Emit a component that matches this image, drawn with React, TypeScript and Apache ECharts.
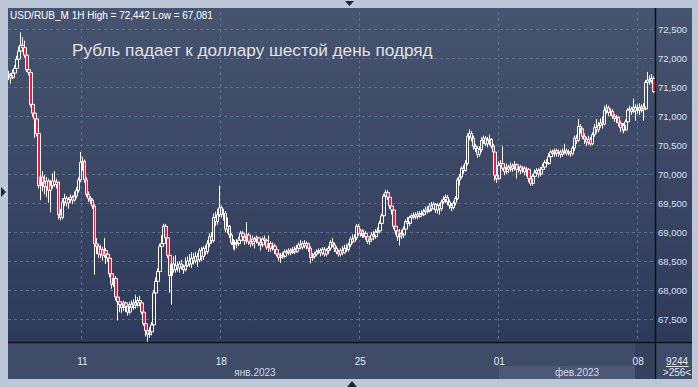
import React, { useEffect, useRef } from "react";
import * as echarts from "echarts";

// Trading days shown on the chart (first and last are partial sessions)
const tradingDays = [
  "06.01", "09.01", "10.01", "11.01", "12.01", "13.01", "16.01", "17.01",
  "18.01", "19.01", "20.01", "23.01", "24.01", "25.01", "26.01", "27.01",
  "30.01", "31.01", "01.02", "02.02", "03.02", "06.02", "07.02", "08.02",
];
const sessionHours = [
  "10:00", "11:00", "12:00", "13:00", "14:00", "15:00", "16:00",
  "17:00", "18:00", "19:00", "20:00", "21:00", "22:00", "23:00",
];
const firstDayHours = ["15:00", "16:00", "17:00", "18:00", "19:00", "20:00", "21:00", "22:00", "23:00"];
const lastDayHours = ["10:00", "11:00", "12:00", "13:00", "14:00", "15:00", "16:00", "17:00", "18:00"];

// Labelled days on the time axis
const dayTicks = ["11.01 10:00", "18.01 10:00", "25.01 10:00", "01.02 10:00", "08.02 10:00"];
const monthLabels = ["янв.2023", "фев.2023"];
const titleText = "Рубль падает к доллару шестой день подряд";
const instrument = "USD/RUB_M 1H";

// Hourly OHLC (one row per trading day)
const open = [
  71.72, 71.70, 71.66, 71.74, 71.82, 71.98, 72.12, 72.22, 72.18,
  72.05, 71.80, 71.75, 71.20, 71.05, 70.95, 70.70, 69.80, 69.95, 69.85, 69.78, 69.88, 69.72, 69.80,
  69.88, 69.82, 69.86, 69.30, 69.25, 69.52, 69.58, 69.50, 69.56, 69.60, 69.55, 69.62, 69.72, 69.90,
  70.20, 70.22, 69.90, 69.65, 69.58, 69.55, 69.45, 68.80, 68.75, 68.62, 68.70, 68.60, 68.68, 68.62,
  68.55, 68.28, 68.10, 68.20, 67.88, 67.80, 67.75, 67.70, 67.78, 67.72, 67.62, 67.75, 67.70, 67.78,
  67.74, 67.82, 67.78, 67.62, 67.42, 67.30, 67.24, 67.28, 67.40, 67.95, 68.15, 68.32, 68.75, 68.80,
  69.10, 68.90, 68.60, 68.25, 68.45, 68.35, 68.42, 68.38, 68.45, 68.40, 68.35, 68.42, 68.50, 68.45,
  68.55, 68.50, 68.58, 68.52, 68.68, 68.58, 68.72, 68.66, 68.80, 68.92, 68.85, 69.25, 69.18, 69.30,
  69.42, 69.30, 69.32, 69.05, 69.10, 68.95, 68.82, 68.78, 68.82, 68.80, 68.86, 68.98, 68.92, 68.85,
  68.95, 68.84, 68.80, 68.88, 68.84, 68.90, 68.82, 68.78, 68.88, 68.85, 68.74, 68.80, 68.72, 68.76,
  68.70, 68.62, 68.56, 68.60, 68.58, 68.66, 68.64, 68.68, 68.65, 68.70, 68.66, 68.72, 68.78, 68.74,
  68.80, 68.76, 68.80, 68.72, 68.56, 68.58, 68.62, 68.66, 68.68, 68.64, 68.70, 68.62, 68.68, 68.72,
  68.82, 68.78, 68.72, 68.66, 68.62, 68.68, 68.64, 68.72, 68.70, 68.78, 68.88, 68.84, 68.90, 69.10,
  68.98, 69.02, 68.94, 68.98, 68.92, 68.84, 68.88, 68.95, 68.92, 69.00, 69.02, 69.15, 69.28, 69.62,
  69.68, 69.60, 69.45, 69.38, 69.10, 69.02, 68.92, 68.98, 68.95, 69.05, 69.18, 69.15, 69.25, 69.28,
  69.26, 69.30, 69.27, 69.32, 69.30, 69.35, 69.38, 69.36, 69.45, 69.40, 69.48, 69.38, 69.46, 69.40,
  69.52, 69.56, 69.60, 69.52, 69.46, 69.42, 69.50, 69.58, 69.90, 69.95, 70.10, 70.06, 70.18, 70.65,
  70.70, 70.62, 70.48, 70.44, 70.34, 70.42, 70.58, 70.62, 70.52, 70.58, 70.60, 70.48, 70.38, 69.98,
  69.92, 70.15, 70.18, 70.10, 70.04, 70.12, 70.08, 70.14, 70.10, 70.16, 70.08, 70.12, 70.06, 70.10,
  70.04, 70.08, 69.92, 69.84, 69.96, 70.02, 70.06, 70.00, 70.08, 70.12, 70.20, 70.18, 70.30, 70.38,
  70.35, 70.40, 70.36, 70.38, 70.34, 70.38, 70.40, 70.36, 70.38, 70.35, 70.45, 70.62, 70.58, 70.82,
  70.78, 70.65, 70.60, 70.55, 70.60, 70.52, 70.68, 70.80, 70.76, 70.84, 70.88, 70.86, 71.10, 71.14,
  71.06, 71.08, 71.00, 70.96, 70.98, 70.88, 70.80, 70.84, 70.76, 70.90, 71.10, 71.12, 71.08, 71.15,
  71.10, 71.14, 71.10, 71.16, 71.12, 71.58, 71.62, 71.60, 71.65,
];
const close = [
  71.70, 71.66, 71.74, 71.82, 71.98, 72.12, 72.22, 72.18, 72.05,
  71.80, 71.75, 71.20, 71.05, 70.95, 70.70, 69.80, 69.95, 69.85, 69.78, 69.88, 69.72, 69.80, 69.88,
  69.82, 69.86, 69.30, 69.25, 69.52, 69.58, 69.50, 69.56, 69.60, 69.55, 69.62, 69.72, 69.90, 70.20,
  70.22, 69.90, 69.65, 69.58, 69.55, 69.45, 68.80, 68.75, 68.62, 68.70, 68.60, 68.68, 68.62, 68.55,
  68.28, 68.10, 68.20, 67.88, 67.80, 67.75, 67.70, 67.78, 67.72, 67.62, 67.75, 67.70, 67.78, 67.74,
  67.82, 67.78, 67.62, 67.42, 67.30, 67.24, 67.28, 67.40, 67.95, 68.15, 68.32, 68.75, 68.80, 69.10,
  68.90, 68.60, 68.25, 68.45, 68.35, 68.42, 68.38, 68.45, 68.40, 68.35, 68.42, 68.50, 68.45, 68.55,
  68.50, 68.58, 68.52, 68.68, 68.58, 68.72, 68.66, 68.80, 68.92, 68.85, 69.25, 69.18, 69.30, 69.42,
  69.30, 69.32, 69.05, 69.10, 68.95, 68.82, 68.78, 68.82, 68.80, 68.86, 68.98, 68.92, 68.85, 68.95,
  68.84, 68.80, 68.88, 68.84, 68.90, 68.82, 68.78, 68.88, 68.85, 68.74, 68.80, 68.72, 68.76, 68.70,
  68.62, 68.56, 68.60, 68.58, 68.66, 68.64, 68.68, 68.65, 68.70, 68.66, 68.72, 68.78, 68.74, 68.80,
  68.76, 68.80, 68.72, 68.56, 68.58, 68.62, 68.66, 68.68, 68.64, 68.70, 68.62, 68.68, 68.72, 68.82,
  68.78, 68.72, 68.66, 68.62, 68.68, 68.64, 68.72, 68.70, 68.78, 68.88, 68.84, 68.90, 69.10, 68.98,
  69.02, 68.94, 68.98, 68.92, 68.84, 68.88, 68.95, 68.92, 69.00, 69.02, 69.15, 69.28, 69.62, 69.68,
  69.60, 69.45, 69.38, 69.10, 69.02, 68.92, 68.98, 68.95, 69.05, 69.18, 69.15, 69.25, 69.28, 69.26,
  69.30, 69.27, 69.32, 69.30, 69.35, 69.38, 69.36, 69.45, 69.40, 69.48, 69.38, 69.46, 69.40, 69.52,
  69.56, 69.60, 69.52, 69.46, 69.42, 69.50, 69.58, 69.90, 69.95, 70.10, 70.06, 70.18, 70.65, 70.70,
  70.62, 70.48, 70.44, 70.34, 70.42, 70.58, 70.62, 70.52, 70.58, 70.60, 70.48, 70.38, 69.98, 69.92,
  70.15, 70.18, 70.10, 70.04, 70.12, 70.08, 70.14, 70.10, 70.16, 70.08, 70.12, 70.06, 70.10, 70.04,
  70.08, 69.92, 69.84, 69.96, 70.02, 70.06, 70.00, 70.08, 70.12, 70.20, 70.18, 70.30, 70.38, 70.35,
  70.40, 70.36, 70.38, 70.34, 70.38, 70.40, 70.36, 70.38, 70.35, 70.45, 70.62, 70.58, 70.82, 70.78,
  70.65, 70.60, 70.55, 70.60, 70.52, 70.68, 70.80, 70.76, 70.84, 70.88, 70.86, 71.10, 71.14, 71.06,
  71.08, 71.00, 70.96, 70.98, 70.88, 70.80, 70.84, 70.76, 70.90, 71.10, 71.12, 71.08, 71.15, 71.10,
  71.14, 71.10, 71.16, 71.12, 71.58, 71.62, 71.60, 71.65, 71.419,
];
const low = [
  71.62, 71.56, 71.64, 71.72, 71.80, 71.95, 72.08, 72.10, 72.00,
  71.76, 71.70, 71.15, 70.98, 70.62, 70.65, 69.75, 69.55, 69.70, 69.65, 69.60, 69.50, 69.34, 69.75,
  69.78, 69.75, 69.22, 69.20, 69.22, 69.45, 69.44, 69.40, 69.50, 69.48, 69.52, 69.58, 69.68, 69.86,
  70.05, 69.85, 69.60, 69.52, 69.48, 69.40, 68.26, 68.62, 68.55, 68.55, 68.50, 68.56, 68.45, 68.48,
  68.22, 68.02, 68.05, 67.82, 67.48, 67.62, 67.60, 67.64, 67.62, 67.56, 67.58, 67.64, 67.66, 67.68,
  67.70, 67.72, 67.58, 67.38, 67.20, 67.081, 67.18, 67.22, 67.38, 67.90, 68.10, 68.28, 68.70, 68.76,
  68.85, 68.55, 67.95, 67.75, 68.30, 68.30, 68.32, 68.30, 68.35, 68.28, 68.32, 68.40, 68.40, 68.38,
  68.44, 68.46, 68.40, 68.48, 68.50, 68.52, 68.60, 68.62, 68.74, 68.80, 68.82, 69.10, 69.12, 69.26,
  69.25, 69.20, 69.00, 68.98, 68.90, 68.78, 68.70, 68.68, 68.72, 68.76, 68.80, 68.84, 68.78, 68.80,
  68.78, 68.74, 68.76, 68.72, 68.80, 68.76, 68.68, 68.74, 68.78, 68.70, 68.66, 68.66, 68.68, 68.62,
  68.58, 68.50, 68.47, 68.54, 68.55, 68.60, 68.60, 68.60, 68.62, 68.62, 68.64, 68.68, 68.70, 68.70,
  68.72, 68.70, 68.66, 68.46, 68.50, 68.54, 68.58, 68.62, 68.58, 68.60, 68.58, 68.58, 68.62, 68.68,
  68.74, 68.66, 68.62, 68.58, 68.58, 68.60, 68.62, 68.66, 68.66, 68.74, 68.80, 68.82, 68.86, 68.94,
  68.92, 68.90, 68.90, 68.86, 68.80, 68.78, 68.84, 68.86, 68.88, 68.96, 68.98, 69.10, 69.24, 69.55,
  69.55, 69.40, 69.30, 69.05, 68.95, 68.85, 68.77, 68.88, 68.90, 69.02, 69.08, 69.10, 69.20, 69.22,
  69.22, 69.22, 69.24, 69.26, 69.28, 69.30, 69.32, 69.34, 69.36, 69.38, 69.33, 69.32, 69.30, 69.36,
  69.48, 69.50, 69.46, 69.40, 69.36, 69.38, 69.46, 69.55, 69.80, 69.92, 70.00, 70.04, 70.15, 70.58,
  70.56, 70.42, 70.38, 70.28, 70.30, 70.38, 70.52, 70.48, 70.46, 70.50, 70.44, 70.32, 69.88, 69.85,
  69.90, 70.08, 70.06, 69.98, 70.00, 70.02, 70.04, 70.04, 70.06, 69.92, 70.02, 70.00, 70.02, 69.98,
  69.96, 69.86, 69.80, 69.80, 69.92, 69.98, 69.94, 69.96, 70.04, 70.08, 70.14, 70.16, 70.26, 70.30,
  70.30, 70.30, 70.30, 70.28, 70.30, 70.34, 70.32, 70.32, 70.30, 70.32, 70.40, 70.52, 70.55, 70.70,
  70.60, 70.52, 70.48, 70.50, 70.48, 70.50, 70.64, 70.70, 70.72, 70.80, 70.78, 70.84, 71.04, 71.00,
  71.00, 70.95, 70.90, 70.88, 70.82, 70.72, 70.74, 70.70, 70.74, 70.88, 71.04, 71.02, 71.05, 70.92,
  71.04, 71.02, 71.06, 70.92, 71.10, 71.52, 71.54, 71.56, 71.40,
];
const high = [
  71.78, 71.74, 71.80, 71.88, 72.04, 72.20, 72.442, 72.36, 72.30,
  72.08, 71.88, 71.78, 71.25, 71.10, 71.00, 70.75, 70.10, 70.05, 69.98, 69.95, 69.92, 69.90, 70.02,
  70.05, 69.92, 69.88, 69.40, 69.58, 69.66, 69.62, 69.60, 69.65, 69.64, 69.70, 69.78, 69.95, 70.38,
  70.30, 70.25, 69.95, 69.70, 69.62, 69.58, 69.48, 68.90, 68.80, 68.78, 68.74, 68.90, 68.72, 68.66,
  68.60, 68.32, 68.28, 68.24, 67.92, 67.85, 67.80, 67.82, 67.80, 67.76, 67.80, 67.82, 67.84, 67.92,
  67.88, 67.90, 67.82, 67.66, 67.46, 67.40, 67.36, 67.45, 68.00, 68.22, 68.38, 68.80, 68.95, 69.14,
  69.14, 68.94, 68.64, 68.50, 68.58, 68.60, 68.48, 68.50, 68.52, 68.44, 68.56, 68.58, 68.62, 68.65,
  68.64, 68.66, 68.64, 68.72, 68.74, 68.76, 68.78, 68.86, 68.98, 69.00, 69.32, 69.35, 69.40, 69.80,
  69.46, 69.40, 69.36, 69.25, 69.12, 68.98, 68.88, 68.86, 68.88, 68.92, 69.02, 69.02, 68.96, 69.17,
  68.98, 68.88, 68.94, 68.92, 68.94, 68.92, 68.86, 68.92, 68.94, 68.88, 68.94, 68.84, 68.82, 68.80,
  68.74, 68.66, 68.64, 68.66, 68.70, 68.70, 68.72, 68.72, 68.74, 68.76, 68.78, 68.82, 68.86, 68.84,
  68.86, 68.84, 68.82, 68.76, 68.64, 68.66, 68.70, 68.72, 68.72, 68.74, 68.74, 68.72, 68.76, 68.86,
  68.90, 68.82, 68.76, 68.70, 68.72, 68.76, 68.78, 68.80, 68.82, 68.92, 68.96, 68.96, 69.14, 69.14,
  69.06, 69.05, 69.04, 69.02, 68.96, 68.92, 69.00, 69.02, 69.05, 69.08, 69.20, 69.32, 69.66, 69.73,
  69.72, 69.64, 69.50, 69.42, 69.15, 69.08, 69.05, 69.04, 69.10, 69.22, 69.26, 69.28, 69.32, 69.34,
  69.34, 69.36, 69.36, 69.38, 69.40, 69.44, 69.45, 69.50, 69.52, 69.52, 69.50, 69.50, 69.50, 69.56,
  69.62, 69.65, 69.64, 69.56, 69.50, 69.54, 69.62, 69.94, 70.00, 70.14, 70.16, 70.24, 70.70, 70.77,
  70.74, 70.66, 70.52, 70.48, 70.48, 70.64, 70.66, 70.65, 70.64, 70.68, 70.62, 70.52, 70.40, 70.10,
  70.22, 70.24, 70.48, 70.14, 70.18, 70.16, 70.20, 70.18, 70.22, 70.18, 70.16, 70.16, 70.14, 70.14,
  70.12, 70.10, 69.96, 70.00, 70.08, 70.10, 70.10, 70.12, 70.18, 70.24, 70.26, 70.36, 70.42, 70.42,
  70.44, 70.44, 70.42, 70.42, 70.44, 70.52, 70.44, 70.42, 70.40, 70.48, 70.66, 70.68, 70.95, 70.86,
  70.80, 70.70, 70.64, 70.66, 70.64, 70.72, 70.86, 70.95, 70.90, 70.96, 71.00, 71.18, 71.20, 71.18,
  71.14, 71.12, 71.04, 71.02, 71.00, 70.92, 70.88, 70.88, 70.94, 71.14, 71.18, 71.16, 71.30, 71.20,
  71.20, 71.22, 71.20, 71.22, 71.62, 71.76, 71.70, 71.72, 71.68,
];

const fmt = (v: number) => v.toFixed(3).replace(".", ",");

export default function App() {
  const ref = useRef<HTMLDivElement>(null);

  useEffect(() => {
    if (!ref.current) return;
    const chart = echarts.init(ref.current, undefined, { renderer: "svg" });

    const categories: string[] = [];
    tradingDays.forEach((d, di) => {
      const hrs = di === 0 ? firstDayHours : di === tradingDays.length - 1 ? lastDayHours : sessionHours;
      hrs.forEach((h) => categories.push(`${d} ${h}`));
    });
    const candles = open.map((o, i) => [o, close[i], low[i], high[i]]);
    const tickSet = new Set(dayTicks);
    const lastClose = close[close.length - 1];
    const header = `${instrument} High = ${fmt(Math.max(...high))} Low = ${fmt(Math.min(...low))}`;

    const frame = "#bcc8d8";
    const font = "'Liberation Sans', Arial, sans-serif";

    chart.setOption({
      animation: false,
      grid: { left: 8, right: 43, top: -1.1, bottom: 38.9, containLabel: false },
      xAxis: [
        {
          type: "category",
          data: categories,
          boundaryGap: true,
          axisLine: { show: false },
          axisTick: { show: false },
          axisLabel: { show: false },
          splitLine: {
            show: true,
            interval: (idx: number, val: string) => tickSet.has(val),
            lineStyle: { color: "#5d6d8c", type: [3, 3], width: 1 },
          },
          z: 0,
        },
        {
          type: "category",
          data: categories,
          boundaryGap: true,
          position: "bottom",
          axisLine: { show: false },
          axisTick: { show: false },
          splitLine: { show: false },
          axisLabel: {
            show: true,
            interval: (idx: number, val: string) => tickSet.has(val),
            formatter: (val: string) => val.slice(0, 2),
            color: "#e4eaf3",
            fontFamily: font,
            fontSize: 10,
            margin: 8,
          },
          z: 30,
        },
      ],
      yAxis: {
        type: "value",
        position: "right",
        min: 67,
        max: 73,
        interval: 0.5,
        axisLine: { show: false },
        axisTick: { show: false },
        splitLine: { show: true, lineStyle: { color: "#5d6d8c", type: [3, 3], width: 1 } },
        axisLabel: {
          showMinLabel: false,
          showMaxLabel: false,
          formatter: (v: number) => fmt(v),
          color: "#d6e2f2",
          fontFamily: font,
          fontSize: 9.5,
          margin: 3,
          align: "left",
        },
      },
      series: [
        {
          type: "candlestick",
          data: candles,
          barWidth: 3,
          itemStyle: {
            color: "rgba(0,0,0,0)",
            color0: "#ff1438",
            borderColor: "#ffffff",
            borderColor0: "#ffffff",
            borderWidth: 1,
          },
          markLine: {
            silent: true,
            symbol: "none",
            lineStyle: { opacity: 0 },
            data: [{ yAxis: lastClose }],
            label: {
              show: true,
              position: "end",
              distance: 4,
              formatter: () => fmt(lastClose),
              backgroundColor: "#c5c9d2",
              color: "#1c2435",
              fontFamily: font,
              fontSize: 9.5,
              padding: [2, 3, 1, 3],
            },
          },
        },
      ],
      graphic: [
        {
          type: "rect",
          z: -10,
          shape: { x: 8, y: 8, width: 684, height: 371 },
          style: {
            fill: new echarts.graphic.LinearGradient(0, 0, 0, 1, [
              { offset: 0, color: "#47546f" },
              { offset: 1, color: "#2b3757" },
            ]),
          },
        },
        { type: "rect", z: 10, shape: { x: 8, y: 343, width: 684, height: 36 }, style: { fill: "#3e4c68" } },
        { type: "rect", z: 11, shape: { x: 499, y: 366, width: 136, height: 13 }, style: { fill: "#4b5974" } },
        { type: "rect", z: 11, shape: { x: 635, y: 343, width: 20, height: 36 }, style: { fill: "#34415c" } },
        { type: "line", z: 12, shape: { x1: 8, y1: 342.5, x2: 692, y2: 342.5 }, style: { stroke: "#0e1118", lineWidth: 1.5 } },
        { type: "line", z: 12, shape: { x1: 655.5, y1: 8, x2: 655.5, y2: 379 }, style: { stroke: "#0e1118", lineWidth: 1.5 } },
        { type: "line", z: 12, shape: { x1: 666, y1: 366.5, x2: 689, y2: 366.5 }, style: { stroke: "#e4eaf3", lineWidth: 1 } },
        {
          type: "text", z: 40, x: 677, y: 361,
          style: { text: "9244", fill: "#e4eaf3", font: `10px ${font}`, textAlign: "center", textVerticalAlign: "middle" },
        },
        {
          type: "text", z: 40, x: 677, y: 372.5,
          style: { text: ">256<", fill: "#e4eaf3", font: `10px ${font}`, textAlign: "center", textVerticalAlign: "middle" },
        },
        {
          type: "text", z: 40, x: 255, y: 372.5,
          style: { text: monthLabels[0], fill: "#d3dbe7", font: `10px ${font}`, textAlign: "center", textVerticalAlign: "middle" },
        },
        {
          type: "text", z: 40, x: 577, y: 372.5,
          style: { text: monthLabels[1], fill: "#d3dbe7", font: `10px ${font}`, textAlign: "center", textVerticalAlign: "middle" },
        },
        {
          type: "text", z: 40, x: 10, y: 15.5,
          style: { text: header, fill: "#ffffff", font: `10px ${font}`, textAlign: "left", textVerticalAlign: "middle" },
        },
        {
          type: "text", z: 40, x: 72, y: 50,
          style: { text: titleText, fill: "#e3e3e3", font: `17.2px ${font}`, textAlign: "left", textVerticalAlign: "middle" },
        },
        // outer frame
        { type: "rect", z: 50, shape: { x: 0, y: 0, width: 698, height: 8 }, style: { fill: frame } },
        { type: "rect", z: 50, shape: { x: 0, y: 0, width: 8, height: 387 }, style: { fill: frame } },
        { type: "rect", z: 50, shape: { x: 692, y: 0, width: 6, height: 387 }, style: { fill: frame } },
        { type: "rect", z: 50, shape: { x: 0, y: 379, width: 698, height: 8 }, style: { fill: frame } },
        { type: "polygon", z: 51, shape: { points: [[345, 1], [354, 1], [349.5, 6]] }, style: { fill: "#1e2638" } },
        { type: "polygon", z: 51, shape: { points: [[347, 387], [357, 387], [352, 381]] }, style: { fill: "#1e2638" } },
        { type: "polygon", z: 51, shape: { points: [[1, 187], [1, 197], [6, 192]] }, style: { fill: "#1e2638" } },
      ],
    });

    return () => chart.dispose();
  }, []);

  return <div ref={ref} style={{ width: 698, height: 387, position: "absolute", left: 0, top: 0 }} />;
}
